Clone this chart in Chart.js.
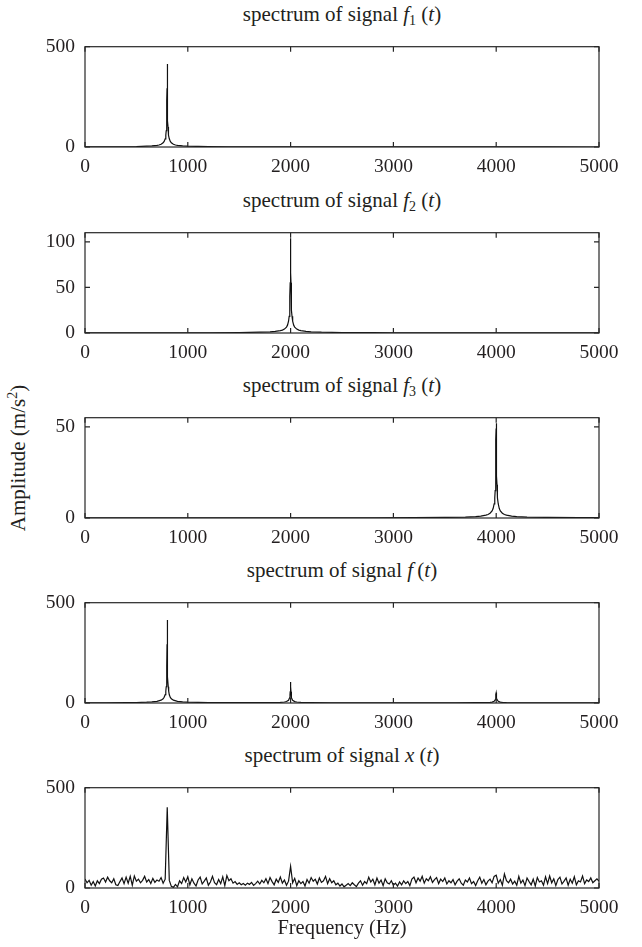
<!DOCTYPE html>
<html>
<head>
<meta charset="utf-8">
<script src="https://cdn.jsdelivr.net/npm/chart.js@4.4.1/dist/chart.umd.min.js"></script>
<style>
    body { margin: 0; background: #fff; width: 642px; height: 947px; position: relative;
           font-family: "Liberation Serif", "Times New Roman", serif; color: #231f20; }
    .panel { position: absolute; left: 0; width: 642px; }
    .titulo { position: absolute; left: 85px; width: 514px; text-align: center;
              font-size: 21px; line-height: 22px; white-space: nowrap; }
    .titulo sub { font-size: 14px; vertical-align: -4px; line-height: 0; }
    #ylabel { position: absolute; left: 18px; top: 458px; font-size: 21px; white-space: nowrap;
              transform: translate(-50%, -50%) rotate(-90deg); }
    #ylabel sup { font-size: 14px; vertical-align: 8px; line-height: 0; }
</style>
</head>
<body>

<div id="ylabel">Amplitude (m/s<sup>2</sup>)</div>

<script>
// ticks del eje de frecuencias (Hz)
const freqTicks = [0, 1000, 2000, 3000, 4000, 5000];

// señal f1: pico en 800 Hz
const f1Freq = [0, 100, 200, 300, 400, 500, 600, 650, 700, 720, 740, 760, 770, 780, 786, 790, 792, 794, 796, 797,
    798, 799, 800, 801, 802, 803, 804, 806, 808, 810, 814, 820, 830, 840, 860, 880, 900, 950, 1000, 1100,
    1200, 1400, 1600, 2000, 2500, 3000, 3500, 4000, 4500, 5000];
const f1Amp = [0.5, 0.6, 0.8, 1.0, 1.3, 2.0, 4.0, 5.5, 8.0, 10, 14, 21, 28, 41, 59, 81, 100, 131, 185, 230,
    293, 370, 414, 370, 293, 230, 185, 131, 100, 81, 59, 41, 28, 21, 14, 10, 8, 5.5, 4.0, 2.7,
    2.0, 1.3, 1.0, 0.6, 0.4, 0.3, 0.25, 0.2, 0.15, 0.1];

// señal f2: pico en 2000 Hz
const f2Freq = [0, 500, 1000, 1200, 1500, 1700, 1800, 1850, 1900, 1920, 1940, 1960, 1970, 1980, 1986, 1990, 1992, 1994, 1996, 1997,
    1998, 1999, 2000, 2001, 2002, 2003, 2004, 2006, 2008, 2010, 2014, 2020, 2030, 2040, 2060, 2080, 2100, 2150, 2200, 2300,
    2500, 2800, 3000, 3500, 4000, 5000];
const f2Amp = [0.1, 0.13, 0.2, 0.26, 0.5, 0.87, 1.3, 1.7, 2.6, 3.2, 4.3, 6.5, 8.6, 12.9, 18.3, 25, 31, 40, 55, 66,
    80, 95, 104, 95, 80, 66, 55, 40, 31, 25, 18.3, 12.9, 8.6, 6.5, 4.3, 3.2, 2.6, 1.7, 1.3, 0.87,
    0.52, 0.33, 0.26, 0.18, 0.13, 0.08];

// señal f3: pico en 4000 Hz
const f3Freq = [0, 1000, 2000, 2800, 3200, 3500, 3700, 3800, 3850, 3900, 3920, 3940, 3960, 3970, 3980, 3986, 3990, 3992, 3994, 3996,
    3997, 3998, 3999, 4000, 4001, 4002, 4003, 4004, 4006, 4008, 4010, 4014, 4020, 4030, 4040, 4060, 4080, 4100, 4150, 4200,
    4300, 4500, 4800, 5000];
const f3Amp = [0.05, 0.06, 0.08, 0.13, 0.2, 0.31, 0.52, 0.78, 1.04, 1.56, 1.95, 2.6, 3.9, 5.2, 7.7, 11, 15, 18.2, 23, 31,
    37, 43, 49, 52, 49, 43, 37, 31, 23, 18.2, 15, 11, 7.7, 5.2, 3.9, 2.6, 1.95, 1.56, 1.04, 0.78,
    0.52, 0.31, 0.2, 0.16];

// señal compuesta f
const fFreq = [0, 200, 400, 500, 600, 650, 700, 740, 760, 770, 780, 786, 790, 794, 796, 798, 799, 800, 801, 802,
    804, 806, 810, 814, 820, 830, 840, 860, 900, 950, 1000, 1100, 1200, 1400, 1600, 1800, 1900, 1940, 1960, 1980,
    1990, 1994, 1996, 1998, 1999, 2000, 2001, 2002, 2004, 2006, 2010, 2020, 2040, 2060, 2100, 2200, 2400, 2800, 3200, 3600,
    3800, 3900, 3940, 3960, 3980, 3990, 3994, 3996, 3998, 3999, 4000, 4001, 4002, 4004, 4006, 4010, 4020, 4040, 4060, 4100,
    4200, 4400, 4700, 5000];
const fAmp = [0.7, 1.0, 1.5, 2.3, 4.2, 5.8, 8.3, 14.3, 21.3, 28.3, 41.3, 59, 81, 131, 185, 293, 370, 414, 370, 293,
    185, 131, 81, 59, 41, 28, 21, 14, 8.3, 5.8, 4.3, 3.0, 2.4, 1.8, 1.8, 2.6, 3.4, 5.0, 7.2, 13.6,
    25.7, 40.7, 55.7, 80.7, 95.7, 104.7, 95.6, 80.6, 55.6, 40.6, 25.6, 13.5, 7.1, 4.9, 3.2, 1.9, 1.1, 0.8, 0.9, 1.1,
    1.4, 2.2, 3.2, 4.5, 8.3, 15.6, 23.6, 31.6, 43.6, 49.6, 52.6, 49.5, 43.5, 31.5, 23.5, 15.5, 8.2, 4.4, 3.1, 2.1,
    1.3, 0.8, 0.6, 0.5];

// señal medida x (con ruido), un valor cada 20 Hz desde 0 hasta 5000
const xStep = 20;
const xAmp = [
    45, 26, 38, 14, 32, 10, 36, 22, 44, 50, 30, 54, 36, 26, 46, 16, 12, 32, 50, 22,
    54, 24, 58, 14, 60, 34, 44, 26, 38, 58, 30, 42, 22, 48, 28, 40, 34, 52, 24, 44,
    402, 38, 8, 3, 18, 6, 36, 22, 52, 30, 56, 16, 46, 24, 10, 40, 54, 20, 34, 50,
    14, 30, 58, 26, 16, 42, 22, 56, 12, 62, 36, 46, 24, 32, 18, 26, 16, 22, 14, 24,
    18, 28, 13, 22, 34, 20, 38, 26, 46, 22, 52, 32, 16, 44, 28, 55, 24, 40, 14, 34,
    108, 26, 48, 12, 36, 22, 32, 10, 42, 24, 52, 34, 44, 20, 50, 28, 36, 58, 22, 46,
    26, 36, 16, 24, 10, 20, 6, 14, 22, 12, 26, 16, 7, 24, 36, 14, 32, 22, 54, 30,
    44, 16, 50, 24, 40, 12, 46, 26, 20, 36, 14, 24, 10, 30, 16, 36, 22, 32, 12, 44,
    54, 26, 50, 34, 58, 24, 46, 36, 56, 28, 42, 52, 22, 44, 32, 50, 20, 36, 26, 42,
    16, 34, 46, 24, 14, 40, 30, 50, 22, 32, 12, 36, 54, 24, 42, 16, 34, 44, 26, 58,
    64, 24, 42, 14, 70, 36, 26, 44, 20, 34, 14, 58, 24, 40, 12, 50, 32, 16, 44, 10,
    52, 30, 36, 14, 56, 22, 60, 26, 46, 12, 42, 54, 20, 34, 50, 14, 44, 24, 56, 16,
    36, 30, 60, 22, 40, 32, 50, 26, 36, 46, 34
];
const xFreq = xAmp.map((_, i) => i * xStep);

// títulos y escalas de cada panel
const titulos = [
    'spectrum of signal <i>f</i><sub>1</sub> (<i>t</i>)',
    'spectrum of signal <i>f</i><sub>2</sub> (<i>t</i>)',
    'spectrum of signal <i>f</i><sub>3</sub> (<i>t</i>)',
    'spectrum of signal <i>f</i>&#8201;(<i>t</i>)',
    'spectrum of signal <i>x</i> (<i>t</i>)'
];
const yMaximos = [500, 110, 55, 500, 500];
const yTicks = [[0, 500], [0, 50, 100], [0, 50], [0, 500], [0, 500]];
const series = [[f1Freq, f1Amp], [f2Freq, f2Amp], [f3Freq, f3Amp], [fFreq, fAmp], [xFreq, xAmp]];

// geometría de los paneles (px)
const topes = [31, 217, 401.5, 587, 772];
const altoPlot = 116;
const margenSup = 6;
const fuente = { family: '"Liberation Serif", "Times New Roman", serif', size: 19.5 };
const fuenteTitulo = { family: '"Liberation Serif", "Times New Roman", serif', size: 20.5 };
const colorTexto = '#231f20';

// caja completa y marcas hacia dentro, estilo MATLAB
const marcoEjes = {
    id: 'marcoEjes',
    afterDraw(chart) {
        const { ctx, chartArea: a, scales } = chart;
        ctx.save();
        ctx.strokeStyle = '#262626';
        ctx.lineWidth = 1.2;
        ctx.strokeRect(a.left, a.top, a.right - a.left, a.bottom - a.top);
        ctx.beginPath();
        scales.x.ticks.forEach(t => {
            const px = scales.x.getPixelForValue(t.value);
            ctx.moveTo(px, a.bottom);
            ctx.lineTo(px, a.bottom - 5);
            ctx.moveTo(px, a.top);
            ctx.lineTo(px, a.top + 5);
        });
        scales.y.ticks.forEach(t => {
            const py = scales.y.getPixelForValue(t.value);
            ctx.moveTo(a.left, py);
            ctx.lineTo(a.left + 5, py);
            ctx.moveTo(a.right, py);
            ctx.lineTo(a.right - 5, py);
        });
        ctx.stroke();
        ctx.restore();
    }
};

function crearPanel(i) {
    const ultimo = i === series.length - 1;
    const altoEjeX = ultimo ? 58 : 30;
    const alto = altoPlot + margenSup + altoEjeX;

    // título del panel
    const t = document.createElement('div');
    t.className = 'titulo';
    t.style.top = (topes[i] - 17 - 11) + 'px';
    t.innerHTML = titulos[i];
    document.body.appendChild(t);

    const div = document.createElement('div');
    div.className = 'panel';
    div.style.top = (topes[i] - margenSup) + 'px';
    div.style.height = alto + 'px';
    const canvas = document.createElement('canvas');
    canvas.width = 642;
    canvas.height = alto;
    div.appendChild(canvas);
    document.body.appendChild(div);

    const [frecs, amps] = series[i];
    const puntos = frecs.map((f, k) => ({ x: f, y: amps[k] }));

    new Chart(canvas.getContext('2d'), {
        type: 'line',
        data: {
            datasets: [{
                data: puntos,
                borderColor: '#111',
                borderWidth: 1.2,
                pointRadius: 0,
                tension: 0,
                fill: false
            }]
        },
        options: {
            responsive: false,
            animation: false,
            devicePixelRatio: 1,
            layout: { padding: { top: margenSup, right: 43, left: 0, bottom: 0 } },
            plugins: { legend: { display: false }, tooltip: { enabled: false } },
            scales: {
                x: {
                    type: 'linear',
                    min: 0,
                    max: 5000,
                    afterBuildTicks: s => { s.ticks = freqTicks.map(v => ({ value: v })); },
                    afterFit: s => { s.height = altoEjeX; },
                    ticks: {
                        font: fuente, color: colorTexto, padding: 8, maxRotation: 0, autoSkip: false,
                        callback: v => String(v)
                    },
                    grid: { display: false, drawTicks: false },
                    border: { display: false },
                    title: {
                        display: ultimo,
                        text: 'Frequency (Hz)',
                        font: fuenteTitulo,
                        color: colorTexto,
                        padding: { top: 0, bottom: 5 }
                    }
                },
                y: {
                    min: 0,
                    max: yMaximos[i],
                    afterBuildTicks: s => { s.ticks = yTicks[i].map(v => ({ value: v })); },
                    afterFit: s => { s.width = 85; },
                    ticks: { font: fuente, color: colorTexto, padding: 10, callback: v => String(v) },
                    grid: { display: false, drawTicks: false },
                    border: { display: false }
                }
            }
        },
        plugins: [marcoEjes]
    });
}

for (let i = 0; i < series.length; i++) {
    crearPanel(i);
}
</script>
</body>
</html>
